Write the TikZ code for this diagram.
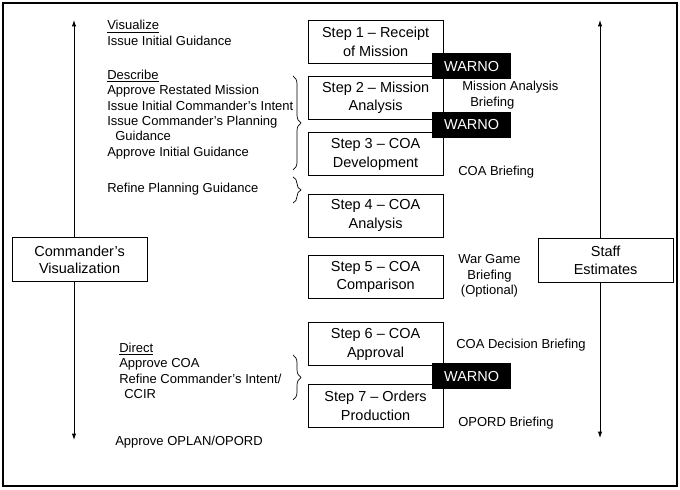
\documentclass[tikz,border=0pt]{standalone}
\usepackage{fontspec}
\setmainfont{Liberation Sans}
\usetikzlibrary{positioning,arrows.meta,decorations.pathreplacing}

\begin{document}
\begin{tikzpicture}[
    stepbox/.style={rectangle, draw, line width=0.7pt, minimum width=3.375cm, minimum height=1.075cm, align=center, font=\fontsize{10.3}{13.2}\selectfont},
    sidebox/.style={stepbox, minimum height=1.1cm, font=\fontsize{10.3}{12.4}\selectfont},
    warno/.style={rectangle, fill=black, text=white, minimum width=1.975cm, minimum height=0.65cm, font=\fontsize{10.3}{13}\selectfont},
    note/.style={anchor=west, align=left, inner sep=0pt, font=\fontsize{9.25}{10.9}\selectfont},
    flow/.style={-{Latex[length=1.6mm,width=1.1mm]}, line width=0.6pt},
    curly/.style={decorate, decoration={brace, amplitude=0.2cm}, line width=0.5pt},
]
\useasboundingbox (0,0) rectangle (17,12.25);
\draw[line width=2pt] (0.075,0.1) rectangle (16.925,12.175);

\node[sidebox] (cv) at (1.99,5.75) {Commander's\\Visualization};
\node[sidebox] (se) at (15.14,5.74) {Staff\\Estimates};
\coordinate (cvtop) at (1.85,11.75);
\coordinate (cvbot) at (1.85,1.25);
\coordinate (setop) at (15.0,11.75);
\coordinate (sebot) at (15.0,1.3);
\draw[flow] (cv.north -| cvtop) -- (cvtop);
\draw[flow] (cv.south -| cvbot) -- (cvbot);
\draw[flow] (se.north -| setop) -- (setop);
\draw[flow] (se.south -| sebot) -- (sebot);

\node[stepbox] (s1) at (9.39,11.2) {Step 1 -- Receipt\\of Mission};
\node[stepbox] (s2) at (9.39,9.81) {Step 2 -- Mission\\Analysis};
\node[stepbox] (s3) at (9.39,8.39) {Step 3 -- COA\\Development};
\node[stepbox] (s4) at (9.39,6.86) {Step 4 -- COA\\Analysis};
\node[stepbox] (s5) at (9.39,5.325) {Step 5 -- COA\\Comparison};
\node[stepbox] (s6) at (9.39,3.64) {Step 6 -- COA\\Approval};
\node[stepbox] (s7) at (9.39,2.1) {Step 7 -- Orders\\Production};

\node[warno] (w1) at (11.79,10.59) {WARNO};
\node[warno] (w2) at (11.79,9.125) {WARNO};
\node[warno] (w3) at (11.79,2.84) {WARNO};

\node[note] (vis) at (2.675,11.425) {\underline{Visualize}\\Issue Initial Guidance};
\node[note] (desc) at (2.675,9.3875) {\underline{Describe}\\Approve Restated Mission\\Issue Initial Commander's Intent\\Issue Commander's Planning\\\hspace*{0.2cm}Guidance\\Approve Initial Guidance};
\node[note] (refine) at (2.675,7.525) {Refine Planning Guidance};
\node[note] (dir) at (2.975,2.975) {\underline{Direct}\\Approve COA\\Refine Commander's Intent/\\\hspace*{0.125cm}CCIR};
\node[note] (oplan) at (2.875,1.2) {Approve OPLAN/OPORD};

\node[note] (mab) at (11.55,9.875) {Mission Analysis\\\hspace*{0.2cm}Briefing};
\node[note] (coab) at (11.45,7.95) {COA Briefing};
\node[note, align=center] (wgb) at (11.45,5.35) {War Game\\Briefing\\(Optional)};
\node[note] (cdb) at (11.4,3.625) {COA Decision Briefing};
\node[note] (opb) at (11.45,1.675) {OPORD Briefing};

\coordinate (b1a) at (7.325,10.35);
\coordinate (b1b) at (7.325,8.0);
\coordinate (b2a) at (7.325,7.825);
\coordinate (b2b) at (7.325,7.175);
\coordinate (b3a) at (7.325,3.375);
\coordinate (b3b) at (7.325,2.25);
\draw[curly] (b1a) -- (b1b);
\draw[curly] (b2a) -- (b2b);
\draw[curly] (b3a) -- (b3b);
\end{tikzpicture}
\end{document}
